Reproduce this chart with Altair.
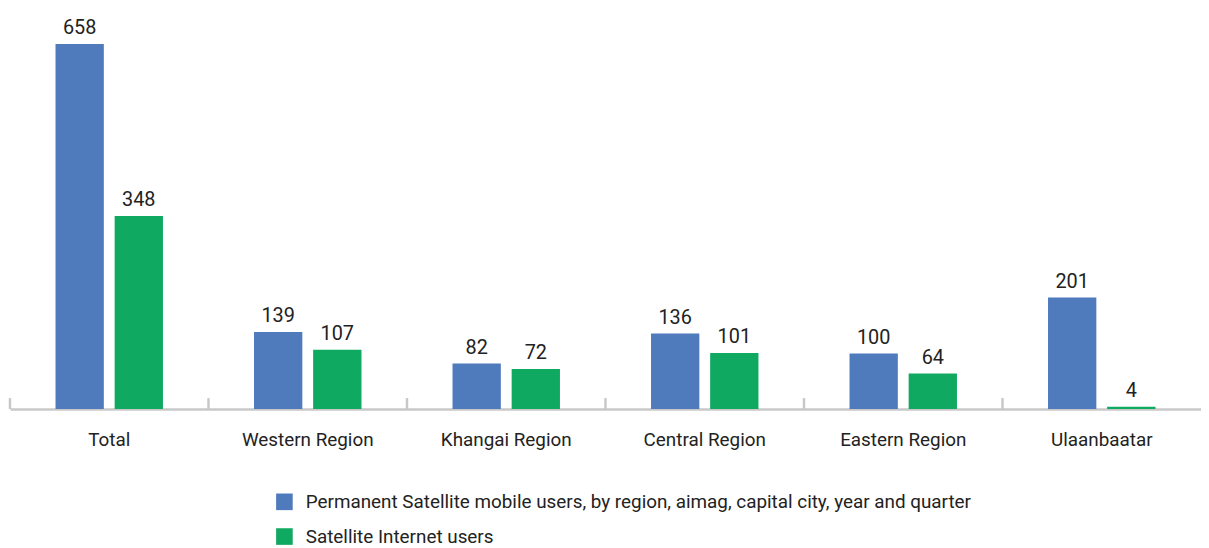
import altair as alt
import pandas as pd

categories = ["Total", "Western Region", "Khangai Region", "Central Region", "Eastern Region", "Ulaanbaatar"]
series_names = [
    "Permanent Satellite mobile users, by region, aimag, capital city, year and quarter",
    "Satellite Internet users",
]
mobile_users = [658, 139, 82, 136, 100, 201]
internet_users = [348, 107, 72, 101, 64, 4]
colors = ["#4f7bbd", "#10a961"]

rows = []
for c, m, i in zip(categories, mobile_users, internet_users):
    rows.append({"cat": c, "series": series_names[0], "value": m})
    rows.append({"cat": c, "series": series_names[1], "value": i})
df = pd.DataFrame(rows)
cat_df = pd.DataFrame({"cat": categories})

FONT = "Roboto"
H = 402

x_enc = alt.X(
    "cat:N",
    sort=categories,
    scale=alt.Scale(paddingInner=0, paddingOuter=0),
    axis=alt.Axis(
        title=None,
        labelAngle=0,
        bandPosition=0.5,
        domainColor="#c8c8c8",
        domainWidth=2.5,
        ticks=False,
        labelFontSize=19,
        labelFont=FONT,
        labelColor="#222222",
        labelPadding=22,
    ),
)
xoff = alt.XOffset(
    "series:N",
    sort=series_names,
    scale=alt.Scale(paddingInner=0.183, paddingOuter=0.77),
)
y_enc = alt.Y("value:Q", scale=alt.Scale(domain=[0, 719], nice=False), axis=None)

bars = alt.Chart(df).mark_bar().encode(
    x=x_enc,
    xOffset=xoff,
    y=y_enc,
    color=alt.Color(
        "series:N",
        sort=series_names,
        scale=alt.Scale(domain=series_names, range=colors),
        legend=alt.Legend(
            title=None,
            orient="none",
            legendX=267,
            legendY=486,
            direction="vertical",
            symbolType="square",
            symbolSize=280,
            symbolStrokeWidth=0,
            labelFontSize=19,
            labelFont=FONT,
            labelColor="#222222",
            labelLimit=900,
            rowPadding=15,
            labelOffset=12,
        ),
    ),
)

labels = alt.Chart(df).mark_text(
    baseline="bottom", dy=-6, fontSize=20, font=FONT, color="#222222"
).encode(
    x=alt.X("cat:N", sort=categories),
    xOffset=xoff,
    y=y_enc,
    text="value:Q",
)

ticks = alt.Chart(cat_df).mark_rule(color="#c8c8c8", strokeWidth=2.5).encode(
    x=alt.X("cat:N", sort=categories, bandPosition=0),
    y=alt.value(H),
    y2=alt.value(H - 11),
)

chart = (
    alt.layer(bars, labels, ticks)
    .properties(width=1200, height=H, padding={"left": 0, "top": 0, "right": 0, "bottom": 0})
    .configure_view(stroke=None)
)

chart.save("out.html", embed_options={"renderer": "svg", "actions": False})
